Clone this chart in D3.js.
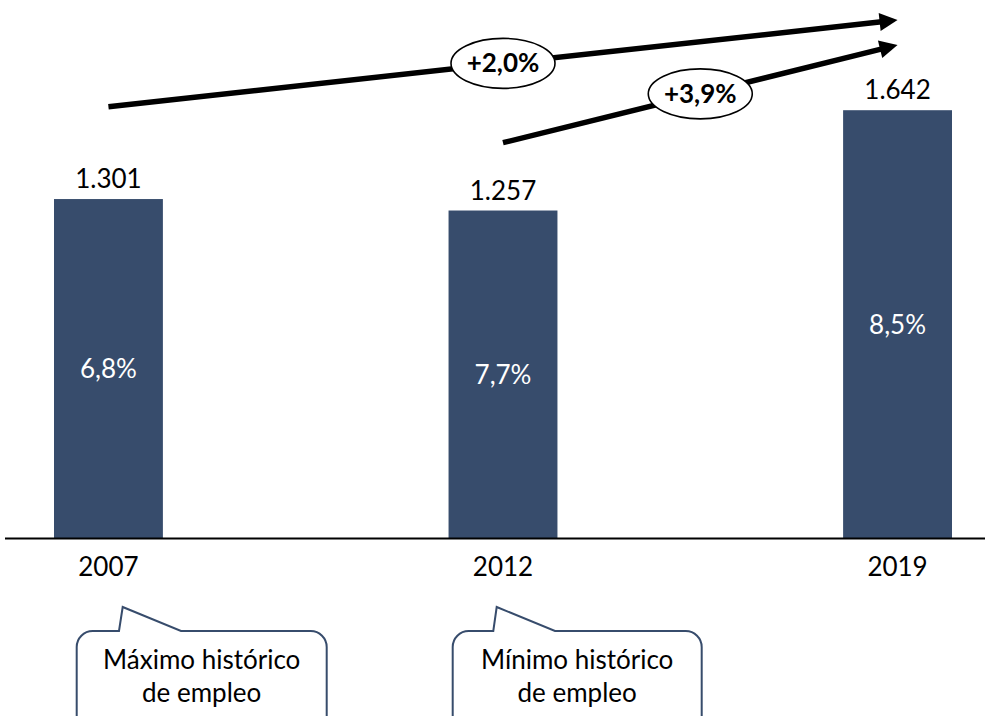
<!DOCTYPE html>
<html>
<head>
<meta charset="utf-8">
<script src="https://cdn.jsdelivr.net/npm/d3@7"></script>
<style>
  body { margin: 0; background: #fff; }
  svg { display: block; font-family: Lato, "Open Sans", sans-serif; }
</style>
</head>
<body>
<svg width="985" height="716"></svg>
<script>
// chart data
var years = ["2007", "2012", "2019"];
var employment = [1301, 1257, 1642];          // miles de empleos
var shareLabels = ["6,8%", "7,7%", "8,5%"];
var growthFrom = ["2007", "2012"];
var growthLabels = ["+2,0%", "+3,9%"];
var calloutYears = ["2007", "2012"];
var calloutText = [["Máximo histórico", "de empleo"], ["Mínimo histórico", "de empleo"]];

var svg = d3.select("svg"), width = +svg.attr("width"), height = +svg.attr("height");
var barColor = "#374c6c";
var fontSize = 26;

var es = d3.formatLocale({decimal: ",", thousands: ".", grouping: [3], currency: ["", " €"]});
var fmt = es.format(",");

var x = d3.scaleBand().domain(years).range([54, 952]).paddingInner(0.724).paddingOuter(0);
var y = d3.scaleLinear().domain([0, 2065]).range([538, 0]);

var data = years.map(function(d, i) {
  return {year: d, value: employment[i], share: shareLabels[i]};
});

// bars
svg.append("g").selectAll("rect").data(data).enter().append("rect")
  .attr("x", function(d) { return x(d.year); })
  .attr("y", function(d) { return y(d.value); })
  .attr("width", x.bandwidth())
  .attr("height", function(d) { return y(0) - y(d.value); })
  .attr("fill", barColor);

// value labels above bars
svg.append("g").selectAll("text").data(data).enter().append("text")
  .attr("x", function(d) { return x(d.year) + x.bandwidth() / 2; })
  .attr("y", function(d) { return y(d.value) - 11; })
  .attr("text-anchor", "middle")
  .attr("font-size", fontSize)
  .attr("fill", "#000")
  .text(function(d) { return fmt(d.value); });

// share labels inside bars
svg.append("g").selectAll("text").data(data).enter().append("text")
  .attr("x", function(d) { return x(d.year) + x.bandwidth() / 2; })
  .attr("y", function(d) { return (y(d.value) + y(0)) / 2 + 9.5; })
  .attr("text-anchor", "middle")
  .attr("font-size", fontSize)
  .attr("fill", "#fff")
  .text(function(d) { return d.share; });

// x axis: plain line + year labels
svg.append("line")
  .attr("x1", 5).attr("x2", width)
  .attr("y1", y(0) + 0.5).attr("y2", y(0) + 0.5)
  .attr("stroke", "#000").attr("stroke-width", 2);

svg.append("g").selectAll("text").data(years).enter().append("text")
  .attr("x", function(d) { return x(d) + x.bandwidth() / 2; })
  .attr("y", 576)
  .attr("text-anchor", "middle")
  .attr("font-size", fontSize)
  .attr("fill", "#000")
  .text(function(d) { return d; });

// growth arrows (annotation layout)
var arrowStartY = [106.7, 142.7];
var arrowEndY = [20, 45];
var xEnd = x("2019") + x.bandwidth() / 2;
var headLen = 18, headHalf = 9;

growthFrom.forEach(function(yr, i) {
  var x0 = x(yr) + x.bandwidth() / 2, y0 = arrowStartY[i];
  var x1 = xEnd, y1 = arrowEndY[i];
  var dx = x1 - x0, dy = y1 - y0, len = Math.sqrt(dx * dx + dy * dy);
  var ux = dx / len, uy = dy / len;
  var bx = x1 - ux * headLen, by = y1 - uy * headLen;

  svg.append("line")
    .attr("x1", x0).attr("y1", y0)
    .attr("x2", bx + ux * 2).attr("y2", by + uy * 2)
    .attr("stroke", "#000").attr("stroke-width", 5.5);

  svg.append("path")
    .attr("d", "M" + x1 + "," + y1 +
      "L" + (bx - uy * headHalf) + "," + (by + ux * headHalf) +
      "L" + (bx + uy * headHalf) + "," + (by - ux * headHalf) + "Z")
    .attr("fill", "#000");

  var cx = (x0 + x1) / 2, cy = (y0 + y1) / 2;
  svg.append("ellipse")
    .attr("cx", cx).attr("cy", cy)
    .attr("rx", 52).attr("ry", 25)
    .attr("fill", "#fff").attr("stroke", "#000").attr("stroke-width", 1.6);

  svg.append("text")
    .attr("x", cx).attr("y", cy + 9)
    .attr("text-anchor", "middle")
    .attr("font-size", fontSize)
    .attr("font-weight", "bold")
    .text(growthLabels[i]);
});

// callouts below the axis
var calloutBox = [{left: 76.7, right: 326.7, tailA: 119, tipX: 122.7, tailB: 181},
                  {left: 452.7, right: 701.7, tailA: 493.3, tipX: 496.7, tailB: 555}];
var boxTop = 631, tipY = 607, r = 16, boxBottom = 740;

calloutYears.forEach(function(yr, i) {
  var b = calloutBox[i];
  var p = d3.path();
  p.moveTo(b.left, boxBottom);
  p.lineTo(b.left, boxTop + r);
  p.arcTo(b.left, boxTop, b.left + r, boxTop, r);
  p.lineTo(b.tailA, boxTop);
  p.lineTo(b.tipX, tipY);
  p.lineTo(b.tailB, boxTop);
  p.lineTo(b.right - r, boxTop);
  p.arcTo(b.right, boxTop, b.right, boxTop + r, r);
  p.lineTo(b.right, boxBottom);
  svg.append("path")
    .attr("d", p.toString())
    .attr("fill", "#fff")
    .attr("stroke", barColor)
    .attr("stroke-width", 2);

  var cx = (b.left + b.right) / 2;
  svg.append("text")
    .attr("text-anchor", "middle")
    .attr("font-size", fontSize)
    .selectAll("tspan").data(calloutText[i]).enter().append("tspan")
    .attr("x", cx)
    .attr("y", function(d, j) { return 669 + j * 33; })
    .text(function(d) { return d; });
});
</script>
</body>
</html>
